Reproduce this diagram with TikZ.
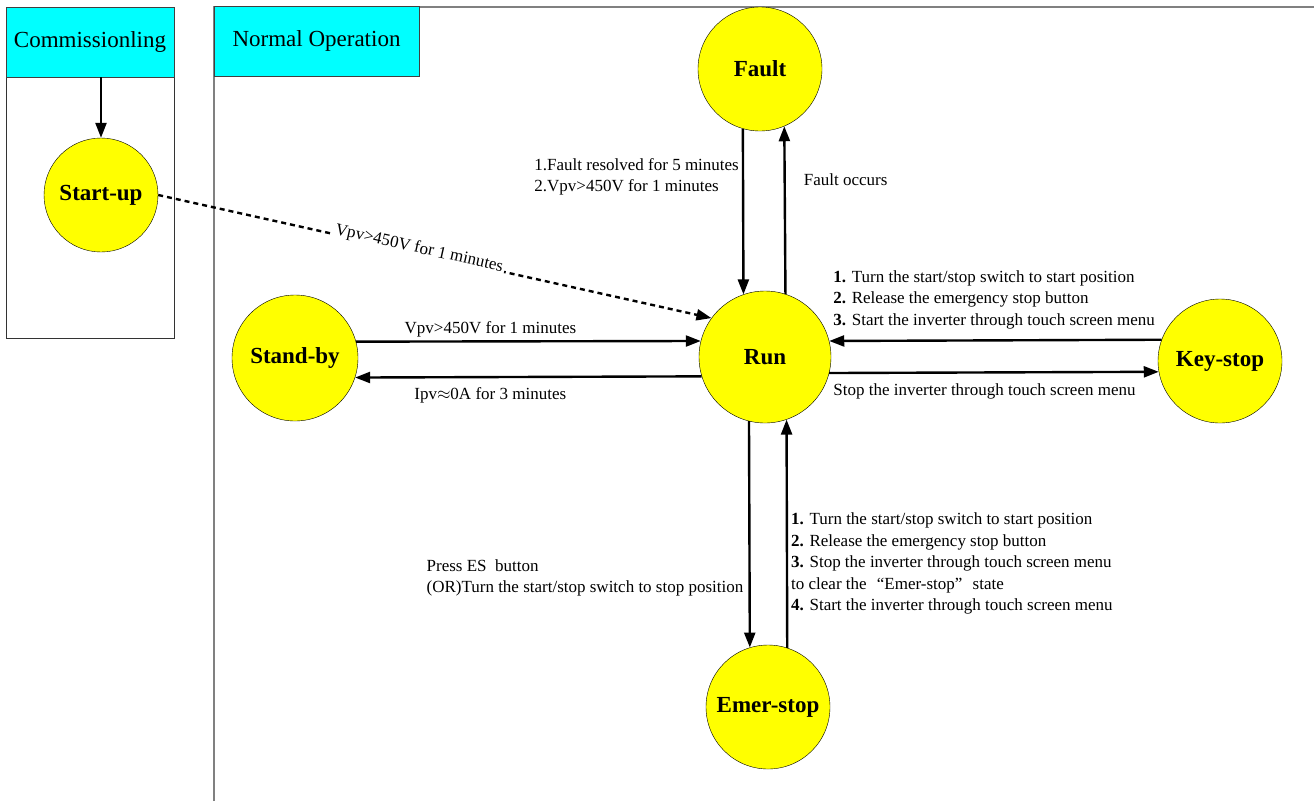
\documentclass[tikz,border=0pt]{standalone}
\usepackage{fontspec}
\setmainfont{Liberation Serif}
\usetikzlibrary{arrows.meta, positioning}

\definecolor{stateyellow}{RGB}{255,255,0}
\definecolor{headcyan}{RGB}{0,255,255}

\tikzset{
  state/.style={circle, draw=black, thin, fill=stateyellow, inner sep=0pt, font=\fontsize{23}{27}\selectfont\bfseries},
  flow/.style={line width=2.4pt, -{Triangle[length=15pt,width=11pt]}},
  note/.style={font=\fontsize{17}{21.5}\selectfont, align=left, inner sep=3pt},
  head/.style={draw=black!75, line width=0.8pt, fill=headcyan, font=\fontsize{23}{27}\selectfont, inner sep=0pt},
  frame/.style={draw=black!50, line width=1.2pt}
}

\begin{document}
\begin{tikzpicture}[x=1pt, y=-1pt]
\useasboundingbox (0,0) rectangle (1314,801);

% frames of the two phases
\draw[draw=black!80, line width=0.8pt] (6,7) rectangle (174,338);
\draw[frame] (214,801) -- (214,7) -- (1314,7);
\node[head, minimum width=168pt, minimum height=70pt] (comm) at (90,42) {Commissionling};
\node[head, minimum width=205pt, minimum height=70pt] (normal) at (316.5,41) {Normal Operation};

% states
\node[state, minimum size=114pt] (startup) at (101,195) {Start-up};
\node[state, minimum size=124pt] (fault) at (760,69) {Fault};
\node[state, minimum size=132pt] (run) at (765,357) {Run};
\node[state, minimum size=126pt] (standby) at (295,358) {Stand-by};
\node[state, minimum size=124pt] (keystop) at (1220,361) {Key-stop};
\node[state, minimum size=124pt] (emerstop) at (768,707) {Emer-stop};

% transitions
\draw[flow] (comm.south -| startup.north) -- (startup.north);
\draw[flow, dash pattern=on 5pt off 4pt] (startup.east) -- node[note, sloped, fill=white, anchor=base, pos=0.47, inner sep=2pt] {Vpv>450V for 1 minutes} (run.144);

\draw[flow] (fault.254) -- node[note, left, pos=0.29] {1.Fault resolved for 5 minutes\\2.Vpv>450V for 1 minutes} (run.109.5);
\draw[flow] (run.72.4) -- node[note, right=15pt, pos=0.68] {Fault occurs} (fault.293.8);

\draw[flow] (standby.15.7) -- node[note, above, pos=0.39] {Vpv>450V for 1 minutes} (run.166);
\draw[flow] (run.197.6) -- node[note, below, pos=0.61, yshift=-6pt] {Ipv{$\approx$}0A for 3 minutes} (standby.342.5);

\draw[flow] (keystop.160.2) -- node[note, pos=1, anchor=south west, yshift=8pt] {\textbf{1.} Turn the start/stop switch to start position\\\textbf{2.} Release the emergency stop button\\\textbf{3.} Start the inverter through touch screen menu} (run.14.9);
\draw[flow] (run.346.9) -- node[note, pos=0, anchor=north west, yshift=-6pt] {Stop the inverter through touch screen menu} (keystop.190.2);

\draw[flow] (run.256) -- node[note, left, pos=0.68, yshift=-3pt, xshift=-2pt] {Press ES\ \ button\\(OR)Turn the start/stop switch to stop position} (emerstop.107.8);
\draw[flow] (emerstop.72.2) -- node[note, right, pos=0.39, yshift=-5pt] {\textbf{1.} Turn the start/stop switch to start position\\\textbf{2.} Release the emergency stop button\\\textbf{3.} Stop the inverter through touch screen menu\\to clear the\hspace{0.6em}“Emer-stop”\hspace{0.6em}state\\\textbf{4.} Start the inverter through touch screen menu} (run.289.5);
\end{tikzpicture}
\end{document}
